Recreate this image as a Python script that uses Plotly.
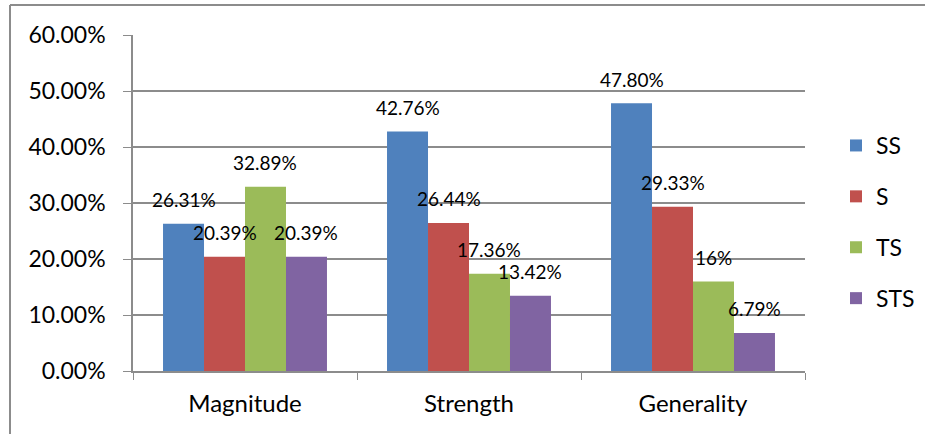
import plotly.graph_objects as go

# Share of each type per dimension (percent)
categories = ["Magnitude", "Strength", "Generality"]
series_names = ["SS", "S", "TS", "STS"]
ss_values = [26.31, 42.76, 47.80]
s_values = [20.39, 26.44, 29.33]
ts_values = [32.89, 17.36, 16.00]
sts_values = [20.39, 13.42, 6.79]
label_texts = [
    ["26.31%", "42.76%", "47.80%"],
    ["20.39%", "26.44%", "29.33%"],
    ["32.89%", "17.36%", "16%"],
    ["20.39%", "13.42%", "6.79%"],
]
y_ticks = [0, 10, 20, 30, 40, 50, 60]
y_tick_labels = ["0.00%", "10.00%", "20.00%", "30.00%", "40.00%", "50.00%", "60.00%"]

colors = ["#4F81BD", "#C0504D", "#9BBB59", "#8064A2"]
FONT = "Lato"
W, H = 925, 434
ML, MR, MT, MB = 133, 120, 35, 63
plot_w = W - ML - MR
plot_h = H - MT - MB
bargap = 0.268
bar_px = plot_w / len(categories) * (1 - bargap) / len(series_names)

fig = go.Figure()
all_values = [ss_values, s_values, ts_values, sts_values]
for i, (name, vals) in enumerate(zip(series_names, all_values)):
    fig.add_trace(go.Bar(
        x=categories, y=vals, name=name,
        marker=dict(color=colors[i], line=dict(width=0)),
        legendgroup=name,
    ))
    for j, cat in enumerate(categories):
        fig.add_annotation(
            x=cat, y=vals[j], text=label_texts[i][j],
            xref="x", yref="y", showarrow=False,
            xshift=(i - 1.5) * bar_px, yshift=24,
            font=dict(family=FONT, size=19, color="#000000"),
        )

# outer chart frame (top and left edges)
fy = 1 + 30 / plot_h
fx = (10 - ML) / plot_w
fig.add_shape(type="line", xref="paper", yref="paper",
              x0=fx, x1=1.5, y0=fy, y1=fy,
              line=dict(color="#8C8C8C", width=2))
fig.add_shape(type="line", xref="paper", yref="paper",
              x0=fx, x1=fx, y0=fy, y1=-0.5,
              line=dict(color="#8C8C8C", width=2))

fig.update_layout(
    width=W, height=H,
    margin=dict(l=ML, r=MR, t=MT, b=MB, autoexpand=False),
    paper_bgcolor="white", plot_bgcolor="white",
    barmode="group", bargap=bargap, bargroupgap=0,
    font=dict(family=FONT, color="#000000"),
    showlegend=True,
    legend=dict(
        xref="container", yref="container",
        x=836 / W, xanchor="left", y=1 - 222 / H, yanchor="middle",
        font=dict(family=FONT, size=23),
        traceorder="grouped", tracegroupgap=18,
        itemwidth=30,
    ),
)
fig.update_xaxes(
    showline=True, linecolor="#8C8C8C", linewidth=1.5,
    ticks="outside", tickson="boundaries", ticklen=7, tickcolor="#8C8C8C",
    tickfont=dict(family=FONT, size=24), showgrid=False,
    ticklabelstandoff=10, automargin=False,
)
fig.update_yaxes(
    range=[0, 60], tickvals=y_ticks, ticktext=y_tick_labels,
    showline=True, linecolor="#8C8C8C", linewidth=1.5,
    ticks="outside", ticklen=8, tickcolor="#8C8C8C",
    showgrid=True, gridcolor="#8C8C8C", gridwidth=1.5,
    tickfont=dict(family=FONT, size=23), ticklabelstandoff=13,
    zeroline=False, automargin=False,
)

fig.write_html("out.html")
